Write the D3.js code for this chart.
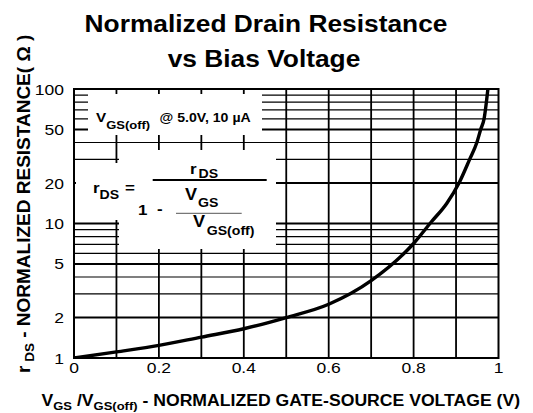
<!DOCTYPE html>
<html><head><meta charset="utf-8">
<script src="https://cdn.jsdelivr.net/npm/d3@7"></script>
<style>
html,body{margin:0;padding:0;background:#fff;}
svg{display:block;font-family:"Liberation Sans",Arial,Helvetica,sans-serif;}
</style></head>
<body>
<svg id="chart" width="533" height="413"></svg>
<script>
// ---- data ----
const titleLines = ["Normalized Drain Resistance", "vs Bias Voltage"];
const xTickValues = [0, 0.2, 0.4, 0.6, 0.8, 1];
const xTickLabels = ["0", "0.2", "0.4", "0.6", "0.8", "1"];
const yTickValues = [1, 2, 5, 10, 20, 50, 100];
const yTickLabels = ["1", "2", "5", "10", "20", "50", "100"];
const xGrid = [0.1, 0.2, 0.3, 0.4, 0.5, 0.6, 0.7, 0.8, 0.9];
const yGrid = [2, 3, 4, 5, 6, 7, 8, 9, 10, 20, 30, 40, 50, 60, 70, 80, 90];
const yGridMajor = [2, 5, 10, 20, 50];
const curveX = [0, 0.1, 0.2, 0.3, 0.4, 0.5, 0.6, 0.7, 0.8, 0.842, 0.878, 0.907, 0.932, 0.949, 0.958, 0.966, 0.975];
const curveY = [1, 1.11, 1.24, 1.43, 1.65, 2.0, 2.51, 3.76, 7.1, 10.3, 14.1, 20, 30, 40, 50, 60, 100];

const SX = 1.13; // horizontal stretch of the original artwork
const svg = d3.select("#chart");
const L = 74, R = 498.5, T = 89, B = 358;
const x = d3.scaleLinear().domain([0, 1]).range([L, R]);
const y = d3.scaleLog().domain([1, 100]).range([B, T]);

function txt(px, py, opts) {
  const sx = opts.sx || SX;
  const t = svg.append("text")
    .attr("transform", `translate(${px},${py}) scale(${sx},1)` + (opts.rotate ? ` rotate(${opts.rotate})` : ""))
    .attr("font-size", opts.size || 15)
    .attr("font-weight", opts.bold ? "bold" : "normal")
    .attr("text-anchor", opts.anchor || "start")
    .attr("fill", "#000");
  (opts.parts || [[opts.text, 0, opts.size]]).forEach(p => {
    t.append("tspan").attr("dy", p[1]).attr("font-size", p[2] || opts.size).text(p[0]);
  });
  return t;
}

// ---- grid ----
const grid = svg.append("g");
grid.selectAll("line.h").data(yGrid).join("line")
  .attr("x1", L).attr("x2", R).attr("y1", d => y(d)).attr("y2", d => y(d))
  .attr("stroke", "#000").attr("stroke-width", d => yGridMajor.includes(d) ? 2 : 1.2);
grid.selectAll("line.v").data(xGrid).join("line")
  .attr("y1", T).attr("y2", B).attr("x1", d => x(d)).attr("x2", d => x(d))
  .attr("stroke", "#000").attr("stroke-width", 1.8);

// white annotation backgrounds
svg.append("rect").attr("x", 88).attr("y", 94).attr("width", 174).attr("height", 41).attr("fill", "#fff");
svg.append("rect").attr("x", 119).attr("y", 150).attr("width", 157).attr("height", 99).attr("fill", "#fff");
svg.append("rect").attr("x", 76).attr("y", 163).attr("width", 43).attr("height", 57).attr("fill", "#fff");

// frame
svg.append("rect").attr("x", L).attr("y", T).attr("width", R - L).attr("height", B - T)
  .attr("fill", "none").attr("stroke", "#000").attr("stroke-width", 2);

// ---- curve ----
svg.append("clipPath").attr("id", "clip").append("rect")
  .attr("x", L).attr("y", T).attr("width", R - L).attr("height", B - T);
const pts = curveX.map((v, i) => [v, curveY[i]]);
svg.append("path").datum(pts)
  .attr("clip-path", "url(#clip)")
  .attr("d", d3.line().x(d => x(d[0])).y(d => y(d[1])).curve(d3.curveMonotoneX))
  .attr("fill", "none").attr("stroke", "#000").attr("stroke-width", 3.4);

// ---- tick labels ----
xTickValues.forEach((v, i) => txt(x(v), 373, {text: xTickLabels[i], size: 15.5, anchor: "middle"}));
yTickValues.forEach((v, i) => txt(64, y(v) + 5.5, {text: yTickLabels[i], size: 15.5, anchor: "end"}));

// ---- titles ----
txt(266, 32, {text: titleLines[0], size: 23.3, bold: true, anchor: "middle"});
txt(264, 67, {text: titleLines[1], size: 23.3, bold: true, anchor: "middle"});

txt(41.5, 406, {bold: true, size: 15.6, parts: [["V", 0, 15.6], ["GS", 3.5, 11.5], [" /", -3.5, 15.6], ["V", 0, 15.6], ["GS(off)", 3.5, 11.5], [" - NORMALIZED GATE-SOURCE VOLTAGE (V)", -3.5, 15.6]]});

txt(30, 373, {bold: true, size: 19, sx: 1.0, rotate: -90, parts: [["r", 0, 19], [" DS", 4, 13.5], [" - NORMALIZED RESISTANCE( \u03A9 )", -4, 19]]});

// ---- annotations ----
txt(96, 121.5, {bold: true, size: 13.5, parts: [["V", 0, 13.5], ["GS(off)", 7.5, 11.5]]});
txt(159.5, 121.5, {text: "@ 5.0V, 10 \u00B5A", bold: true, size: 12.5});

txt(93, 193, {text: "r", bold: true, size: 15});
txt(99.5, 198.5, {text: "DS", bold: true, size: 12.5});
txt(125, 193, {text: "=", bold: true, size: 15});
txt(138, 215, {text: "1", bold: true, size: 15});
txt(157, 214, {text: "-", bold: true, size: 15});
svg.append("line").attr("x1", 152.7).attr("x2", 266.7).attr("y1", 180).attr("y2", 180)
  .attr("stroke", "#000").attr("stroke-width", 2);
txt(190, 174, {text: "r", bold: true, size: 15});
txt(198.5, 177.5, {text: "DS", bold: true, size: 12.5});
txt(185, 200, {text: "V", bold: true, size: 16});
txt(198, 206.5, {text: "GS", bold: true, size: 12.5});
svg.append("line").attr("x1", 176).attr("x2", 241.7).attr("y1", 213.3).attr("y2", 213.3)
  .attr("stroke", "#555").attr("stroke-width", 1);
txt(193, 226.7, {text: "V", bold: true, size: 16});
txt(206.7, 235, {text: "GS(off)", bold: true, size: 12.5});
</script>
</body></html>
